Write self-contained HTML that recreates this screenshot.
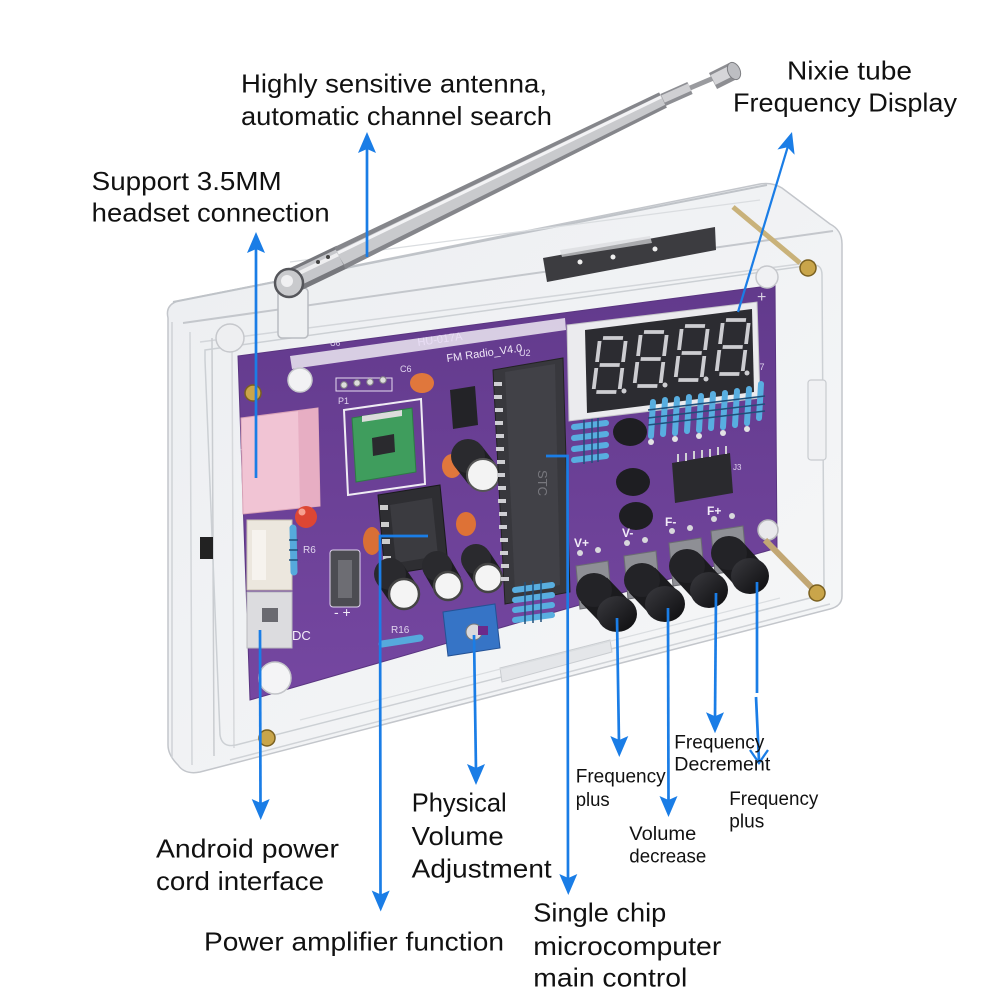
<!DOCTYPE html>
<html><head><meta charset="utf-8">
<style>html,body{margin:0;padding:0;background:#fff;overflow:hidden;}svg{display:block;}</style>
</head>
<body>
<svg xmlns="http://www.w3.org/2000/svg" width="1000" height="1000" viewBox="0 0 1000 1000">
<defs>
<linearGradient id="pcb" x1="0" y1="0" x2="0" y2="1"><stop offset="0" stop-color="#623a8c"/><stop offset="1" stop-color="#7547a1"/></linearGradient>
<linearGradient id="acr" x1="0" y1="0" x2="1" y2="1"><stop offset="0" stop-color="#eceef1"/><stop offset="1" stop-color="#f6f7f8"/></linearGradient>
<linearGradient id="knob" x1="0" y1="0" x2="1" y2="1"><stop offset="0" stop-color="#3a3a3f"/><stop offset="1" stop-color="#0c0c0e"/></linearGradient>
</defs>
<rect width="1000" height="1000" fill="#fff"/>

<!-- ===== ACRYLIC CASE ===== -->
<path d="M168,318 Q165,305 178,301 L760,184 Q772,182 782,188 L830,224 Q842,230 842,244 L842,596 Q842,606 830,609 L200,772 Q185,775 178,765 Q168,755 168,745 Z" fill="url(#acr)" stroke="#c3c6cb" stroke-width="1.5"/>
<line x1="173" y1="302" x2="767" y2="185" stroke="#bfc3c8" stroke-width="2"/>
<line x1="183" y1="323" x2="833" y2="231" stroke="#c4c7cc" stroke-width="2"/>
<line x1="200" y1="342" x2="815" y2="262" stroke="#d3d6da" stroke-width="1.5"/>
<line x1="290" y1="262" x2="760" y2="200" stroke="#dadde0" stroke-width="1.2"/>
<!-- speaker bar -->
<polygon points="543,258 715,227 716,250 547,282" fill="#3c3c40"/>
<circle cx="580" cy="262" r="2.5" fill="#eee"/><circle cx="613" cy="257" r="2.5" fill="#eee"/><circle cx="655" cy="249" r="2.5" fill="#eee"/>
<polygon points="560,250 650,236 652,243 562,257" fill="#d8dadd" opacity="0.7"/>
<!-- left side layers -->
<line x1="172" y1="322" x2="172" y2="758" stroke="#cfd2d6" stroke-width="1.5"/>
<line x1="190" y1="332" x2="192" y2="765" stroke="#d2d5d9" stroke-width="1.5"/>
<line x1="212" y1="338" x2="214" y2="756" stroke="#c9ccd0" stroke-width="1.5"/>
<line x1="232" y1="345" x2="234" y2="748" stroke="#d6d8db" stroke-width="1.5"/>
<path d="M205,350 L812,265 Q822,264 822,275 L824,585 Q824,594 814,597 L236,745 Q222,748 220,735 L205,360 Z" fill="none" stroke="#ccd0d4" stroke-width="1.5"/>
<rect x="808" y="380" width="18" height="80" rx="3" fill="#f0f1f3" stroke="#c8cbcf" stroke-width="1.2"/>
<line x1="230" y1="760" x2="830" y2="604" stroke="#d0d3d7" stroke-width="1.5"/>
<polygon points="500,668 610,640 612,652 502,682" fill="#e4e6e9" stroke="#c9ccd0" stroke-width="1"/>
<line x1="300" y1="720" x2="780" y2="598" stroke="#dadde0" stroke-width="1.2"/>

<!-- ===== PCB ===== -->
<polygon points="238,356 775,285 777,548 250,700" fill="url(#pcb)" stroke="#5a3580" stroke-width="1"/>
<polygon points="290,356 565,318 566,330 292,369" fill="#ffffff" opacity="0.75"/>
<text x="418" y="346" font-family="Liberation Sans, sans-serif" font-size="11" fill="#e9def5" transform="rotate(-8 418 346)">HU-017A</text>
<text x="447" y="362" font-family="Liberation Sans, sans-serif" font-size="11" fill="#f0e8f8" transform="rotate(-8 447 362)">FM Radio_V4.0</text>
<text x="330" y="346" font-family="Liberation Sans, sans-serif" font-size="8" fill="#e0d4ee">U6</text>
<text x="519" y="356" font-family="Liberation Sans, sans-serif" font-size="9" fill="#e0d4ee">U2</text>
<text x="400" y="372" font-family="Liberation Sans, sans-serif" font-size="9" fill="#e0d4ee">C6</text>
<text x="338" y="404" font-family="Liberation Sans, sans-serif" font-size="9" fill="#e0d4ee">P1</text>
<text x="753" y="370" font-family="Liberation Sans, sans-serif" font-size="9" fill="#e0d4ee">R7</text>
<text x="462" y="449" font-family="Liberation Sans, sans-serif" font-size="9" fill="#e0d4ee">C8</text>
<text x="303" y="553" font-family="Liberation Sans, sans-serif" font-size="10" fill="#e0d4ee">R6</text>
<text x="391" y="633" font-family="Liberation Sans, sans-serif" font-size="10" fill="#e0d4ee">R16</text>
<text x="292" y="640" font-family="Liberation Sans, sans-serif" font-size="13" fill="#f2ecf8">DC</text>
<text x="334" y="617" font-family="Liberation Sans, sans-serif" font-size="14" fill="#f2ecf8">- +</text>
<text x="757" y="302" font-family="Liberation Sans, sans-serif" font-size="16" fill="#d8d0e2">+</text>
<text x="240" y="455" font-family="Liberation Sans, sans-serif" font-size="16" fill="#d8d0e2">+</text>
<rect x="336" y="378" width="56" height="13" fill="none" stroke="#e6dcf0" stroke-width="1"/>
<circle cx="344" cy="385" r="3.2" fill="#ddd" stroke="#888"/><circle cx="357" cy="383" r="3.2" fill="#ddd" stroke="#888"/><circle cx="370" cy="382" r="3.2" fill="#ddd" stroke="#888"/><circle cx="383" cy="380" r="3.2" fill="#ddd" stroke="#888"/>

<!-- Pink jack -->
<polygon points="241,418 318,408 320,506 243,514" fill="#f1c4d4" stroke="#d9a3b7" stroke-width="1"/>
<polygon points="298,411 318,408 320,506 300,508" fill="#e7aec3"/>
<rect x="247" y="520" width="45" height="70" fill="#ece7de" stroke="#c9c1b2" stroke-width="1"/>
<rect x="252" y="530" width="14" height="50" fill="#f6f3ee"/>
<rect x="247" y="592" width="45" height="56" fill="#dcdcdf" stroke="#b9b9bd" stroke-width="1"/>
<rect x="262" y="608" width="16" height="14" fill="#6a6a70"/>
<rect x="200" y="537" width="13" height="22" fill="#222"/>
<circle cx="306" cy="517" r="11" fill="#dd4634"/><circle cx="302" cy="512" r="3.5" fill="#f7a090"/>
<line x1="293" y1="528" x2="294" y2="572" stroke="#56a9dc" stroke-width="7" stroke-linecap="round"/>
<line x1="289" y1="540" x2="298" y2="540" stroke="#1f4f7a" stroke-width="1.5"/><line x1="289" y1="550" x2="298" y2="550" stroke="#1f4f7a" stroke-width="1.5"/><line x1="289" y1="560" x2="298" y2="560" stroke="#1f4f7a" stroke-width="1.5"/>
<rect x="330" y="550" width="30" height="57" rx="3" fill="#4c4c52" stroke="#e0d4ee" stroke-width="1"/>
<rect x="338" y="560" width="14" height="38" fill="#6d6d73"/>
<!-- green module -->
<polygon points="344,410 421,399 425,484 348,495" fill="none" stroke="#f0ecf4" stroke-width="2"/>
<polygon points="352,418 412,408 416,472 356,482" fill="#3f9d5d" stroke="#2e7a46" stroke-width="1"/>
<polygon points="372,438 394,434 395,452 373,456" fill="#2a2a2e"/>
<polygon points="362,416 402,410 402,416 362,422" fill="#dcdcdc"/>
<ellipse cx="422" cy="383" rx="12" ry="10" fill="#e0773c"/>
<ellipse cx="452" cy="466" rx="10" ry="12" fill="#e0773c"/>
<ellipse cx="466" cy="524" rx="10" ry="12" fill="#de7236"/>
<ellipse cx="372" cy="541" rx="9" ry="14" fill="#d96f35"/>
<polygon points="450,390 475,386 478,425 453,429" fill="#232327"/>
<line x1="468" y1="456" x2="482" y2="474" stroke="#1f1f23" stroke-width="34"/>
<ellipse cx="468" cy="456" rx="17" ry="17" fill="#2a2a2e"/>
<ellipse cx="483" cy="475" rx="16" ry="16" fill="#f3f3f3" stroke="#555" stroke-width="2"/>
<polygon points="378,495 440,485 448,565 385,575" fill="#2e2e32" stroke="#1a1a1c"/>
<polygon points="390,505 432,498 438,556 396,563" fill="#3b3b40"/>
<rect x="380" y="505" width="8" height="5" fill="#ccc"/><rect x="381" y="522" width="8" height="5" fill="#ccc"/><rect x="382" y="539" width="8" height="5" fill="#ccc"/><rect x="383" y="556" width="8" height="5" fill="#ccc"/>
<line x1="390" y1="574" x2="403" y2="593" stroke="#1e1e22" stroke-width="32"/>
<ellipse cx="390" cy="574" rx="16" ry="16" fill="#2a2a2e"/>
<ellipse cx="404" cy="594" rx="15" ry="15" fill="#f4f4f4" stroke="#444" stroke-width="2.5"/>
<line x1="437" y1="566" x2="448" y2="585" stroke="#1e1e22" stroke-width="30"/>
<ellipse cx="437" cy="566" rx="15" ry="15" fill="#2a2a2e"/>
<ellipse cx="448" cy="586" rx="14" ry="14" fill="#f4f4f4" stroke="#444" stroke-width="2.5"/>
<line x1="476" y1="559" x2="488" y2="577" stroke="#1e1e22" stroke-width="30"/>
<ellipse cx="476" cy="559" rx="15" ry="15" fill="#2a2a2e"/>
<ellipse cx="488" cy="578" rx="14" ry="14" fill="#f4f4f4" stroke="#444" stroke-width="2.5"/>
<polygon points="443,612 495,604 500,648 448,656" fill="#3674c6" stroke="#245295" stroke-width="1"/>
<circle cx="474" cy="632" r="8" fill="#d9d9dd" stroke="#777"/>
<rect x="478" y="626" width="10" height="9" fill="#6b2a8a"/>
<line x1="382" y1="644" x2="420" y2="638" stroke="#56a9dc" stroke-width="7" stroke-linecap="round"/>
<!-- U2 chip -->
<polygon points="493,370 563,358 570,592 505,604" fill="#38383d" stroke="#222" stroke-width="1"/>
<polygon points="505,372 555,364 560,585 515,593" fill="#414147"/>
<g fill="#cfcfd3">
<rect x="494" y="382" width="8" height="4"/><rect x="494" y="395" width="8" height="4"/><rect x="495" y="408" width="8" height="4"/><rect x="495" y="421" width="8" height="4"/><rect x="496" y="434" width="8" height="4"/><rect x="496" y="447" width="8" height="4"/><rect x="497" y="460" width="8" height="4"/><rect x="497" y="473" width="8" height="4"/><rect x="498" y="486" width="8" height="4"/><rect x="498" y="499" width="8" height="4"/><rect x="499" y="512" width="8" height="4"/><rect x="499" y="525" width="8" height="4"/><rect x="500" y="538" width="8" height="4"/><rect x="500" y="551" width="8" height="4"/><rect x="501" y="564" width="8" height="4"/><rect x="501" y="577" width="8" height="4"/>
</g>
<text x="538" y="470" font-family="Liberation Sans, sans-serif" font-size="13" fill="#77777d" transform="rotate(90 538 470)">STC</text>
<g stroke="#58aee0" stroke-width="6" stroke-linecap="round">
<line x1="574" y1="416" x2="606" y2="412"/><line x1="574" y1="427" x2="606" y2="423"/><line x1="574" y1="438" x2="606" y2="434"/><line x1="574" y1="449" x2="606" y2="445"/><line x1="574" y1="460" x2="606" y2="456"/>
<line x1="515" y1="590" x2="552" y2="585"/><line x1="515" y1="600" x2="552" y2="595"/><line x1="515" y1="610" x2="552" y2="605"/><line x1="515" y1="620" x2="552" y2="615"/>
</g>
<g stroke="#1f4f7a" stroke-width="1.5">
<line x1="584" y1="408" x2="584" y2="464"/><line x1="592" y1="407" x2="592" y2="463"/><line x1="598" y1="406" x2="598" y2="462"/>
<line x1="525" y1="582" x2="525" y2="624"/><line x1="533" y1="581" x2="533" y2="623"/><line x1="541" y1="580" x2="541" y2="622"/>
</g>
<!-- display -->
<polygon points="567,325 757,302 760,398 569,421" fill="#ebebee" stroke="#c4c4c8" stroke-width="1"/>
<polygon points="585,330 752,309 754,392 587,413" fill="#2c2c31"/>
<g fill="none" stroke="#cdcdd1" stroke-width="3.8">
<g transform="translate(600,338) skewX(-7)"><path d="M3,0H23M26,3V24M26,30V51M3,54H23M0,30V51M0,3V24M3,27H23"/></g>
<g transform="translate(641,332) skewX(-7)"><path d="M3,0H23M26,3V24M26,30V51M3,54H23M0,30V51M0,3V24M3,27H23"/></g>
<g transform="translate(682,326) skewX(-7)"><path d="M3,0H23M26,3V24M26,30V51M3,54H23M0,30V51M0,3V24M3,27H23"/></g>
<g transform="translate(723,320) skewX(-7)"><path d="M3,0H23M26,3V24M26,30V51M3,54H23M0,30V51M0,3V24M3,27H23"/></g>
</g>
<g fill="#cdcdd1"><circle cx="624" cy="391" r="2.5"/><circle cx="665" cy="385" r="2.5"/><circle cx="706" cy="379" r="2.5"/><circle cx="747" cy="373" r="2.5"/></g>
<g stroke="#58aee0" stroke-width="6" stroke-linecap="round">
<line x1="653" y1="402" x2="651" y2="436"/><line x1="665" y1="400" x2="663" y2="434"/><line x1="677" y1="399" x2="675" y2="433"/><line x1="689" y1="397" x2="687" y2="431"/><line x1="701" y1="396" x2="699" y2="430"/><line x1="713" y1="394" x2="711" y2="428"/><line x1="725" y1="393" x2="723" y2="427"/><line x1="737" y1="391" x2="735" y2="425"/><line x1="749" y1="389" x2="747" y2="423"/><line x1="761" y1="384" x2="759" y2="418"/>
</g>
<g stroke="#1f4f7a" stroke-width="1.5">
<line x1="648" y1="410" x2="765" y2="396"/><line x1="648" y1="418" x2="765" y2="404"/><line x1="648" y1="425" x2="765" y2="411"/>
</g>
<g fill="#e2e2e4"><circle cx="651" cy="442" r="3"/><circle cx="675" cy="439" r="3"/><circle cx="699" cy="436" r="3"/><circle cx="723" cy="433" r="3"/><circle cx="747" cy="429" r="3"/></g>
<ellipse cx="630" cy="432" rx="17" ry="14" fill="#1e1e22"/>
<ellipse cx="633" cy="482" rx="17" ry="14" fill="#1e1e22"/>
<ellipse cx="636" cy="516" rx="17" ry="14" fill="#1e1e22"/>
<polygon points="672,463 730,453 733,493 675,503" fill="#2a2a2e"/>
<g stroke="#d0d0d4" stroke-width="2"><line x1="678" y1="462" x2="678" y2="454"/><line x1="686" y1="461" x2="686" y2="453"/><line x1="694" y1="459" x2="694" y2="451"/><line x1="702" y1="458" x2="702" y2="450"/><line x1="710" y1="457" x2="710" y2="449"/><line x1="718" y1="455" x2="718" y2="447"/><line x1="726" y1="454" x2="726" y2="446"/></g>
<text x="733" y="470" font-family="Liberation Sans, sans-serif" font-size="8" fill="#e0d4ee">J3</text>

<!-- switches -->
<g fill="#8e8f95" stroke="#6b6c72" stroke-width="1">
<polygon points="576,566 608,561 612,604 580,609"/>
<polygon points="624,556 656,551 660,594 628,599"/>
<polygon points="669,543 701,538 705,581 673,586"/>
<polygon points="711,531 743,526 747,569 715,574"/>
</g>
<g fill="#d8d8dc"><circle cx="580" cy="553" r="3"/><circle cx="598" cy="550" r="3"/><circle cx="627" cy="543" r="3"/><circle cx="645" cy="540" r="3"/><circle cx="672" cy="531" r="3"/><circle cx="690" cy="528" r="3"/><circle cx="714" cy="519" r="3"/><circle cx="732" cy="516" r="3"/></g>
<g font-family="Liberation Sans, sans-serif" font-size="12" fill="#f2ecf8" font-weight="bold">
<text x="574" y="547">V+</text><text x="622" y="537">V-</text><text x="665" y="526">F-</text><text x="707" y="515">F+</text>
</g>
<text x="758" y="532" font-family="Liberation Sans, sans-serif" font-size="18" fill="#e4dcec">+</text>
<g>
<line x1="594" y1="590" x2="617" y2="614" stroke="#1b1b1e" stroke-width="36"/>
<ellipse cx="594" cy="590" rx="18" ry="17" fill="#232327"/>
<ellipse cx="617" cy="614" rx="20" ry="18" fill="url(#knob)"/>
<line x1="642" y1="580" x2="665" y2="604" stroke="#1b1b1e" stroke-width="36"/>
<ellipse cx="642" cy="580" rx="18" ry="17" fill="#232327"/>
<ellipse cx="665" cy="604" rx="20" ry="18" fill="url(#knob)"/>
<line x1="687" y1="566" x2="709" y2="590" stroke="#1b1b1e" stroke-width="35"/>
<ellipse cx="687" cy="566" rx="18" ry="17" fill="#232327"/>
<ellipse cx="709" cy="590" rx="19" ry="18" fill="url(#knob)"/>
<line x1="729" y1="553" x2="750" y2="576" stroke="#1b1b1e" stroke-width="35"/>
<ellipse cx="729" cy="553" rx="18" ry="17" fill="#232327"/>
<ellipse cx="750" cy="576" rx="19" ry="18" fill="url(#knob)"/>
</g>
<circle cx="275" cy="678" r="16" fill="#f4f4f6" stroke="#c3c5c9" stroke-width="1.5"/>
<circle cx="300" cy="380" r="12" fill="#f2f2f4" stroke="#c6c8cc" stroke-width="1.5"/>
<circle cx="230" cy="338" r="14" fill="#eeeff1" stroke="#c6c8cc" stroke-width="1.5"/>
<circle cx="767" cy="277" r="11" fill="#f0f1f3" stroke="#c6c8cc" stroke-width="1.5"/>
<circle cx="768" cy="530" r="10" fill="#e9e9ec" stroke="#b8b8bc" stroke-width="1.5"/>
<line x1="733" y1="207" x2="800" y2="263" stroke="#c9b27a" stroke-width="5"/>
<line x1="765" y1="540" x2="817" y2="593" stroke="#c2a774" stroke-width="6"/>
<g fill="#c9a54a" stroke="#7a6020" stroke-width="1.5">
<circle cx="253" cy="393" r="8"/><circle cx="267" cy="738" r="8"/><circle cx="808" cy="268" r="8"/><circle cx="817" cy="593" r="8"/>
</g>

<!-- ===== ANTENNA ===== -->
<rect x="278" y="288" width="30" height="50" rx="4" fill="#eef0f2" stroke="#b9bcc1" stroke-width="1.5"/>
<line x1="292" y1="281" x2="342" y2="257" stroke="#77787d" stroke-width="25"/>
<line x1="292" y1="280" x2="342" y2="256" stroke="#c6c7cb" stroke-width="17"/>
<line x1="291" y1="277" x2="341" y2="253" stroke="#eeeef0" stroke-width="4"/>
<polygon points="345.5,269 666.9,107.6 659.1,92.4 334.5,247" fill="#85868b"/>
<polygon points="344,264.5 665.3,104.8 660.7,95.2 336,251.5" fill="#c9cacd"/>
<line x1="338" y1="253" x2="661" y2="97" stroke="#f3f3f5" stroke-width="3"/>
<line x1="663" y1="100" x2="690" y2="88" stroke="#8e8f94" stroke-width="13"/>
<line x1="663" y1="99" x2="690" y2="87" stroke="#d0d0d3" stroke-width="8"/>
<line x1="690" y1="88" x2="716" y2="77" stroke="#9a9b9f" stroke-width="5"/>
<line x1="713" y1="81" x2="733" y2="71" stroke="#8d8e92" stroke-width="18"/>
<line x1="713" y1="80" x2="733" y2="70" stroke="#d5d5d8" stroke-width="11"/>
<ellipse cx="734" cy="71" rx="6" ry="9" fill="#bdbec2" stroke="#7d7e82" transform="rotate(-25 734 71)"/>
<circle cx="289" cy="283" r="14" fill="#c9cacd" stroke="#55565b" stroke-width="2.5"/>
<circle cx="287" cy="281" r="6" fill="#f0f0f2"/>
<circle cx="318" cy="262" r="2" fill="#444"/><circle cx="328" cy="257" r="2" fill="#444"/>

<!-- ===== ARROWS ===== -->
<g stroke="#1a7de6" stroke-width="2.7" fill="none">
<line x1="367" y1="257" x2="367" y2="146"/>
<line x1="256" y1="478" x2="256" y2="246"/>
<line x1="738" y1="312" x2="788" y2="146" stroke-width="2.2"/>
<line x1="260" y1="630" x2="260.5" y2="805"/>
<polyline points="428,536 380,536 380.5,897"/>
<line x1="474" y1="635" x2="476" y2="771"/>
<polyline points="546,456 567.5,456 568,881"/>
<line x1="617" y1="618" x2="619" y2="743"/>
<line x1="668" y1="608" x2="668.5" y2="803"/>
<line x1="716" y1="593" x2="715" y2="719"/>
<line x1="757" y1="582" x2="757" y2="693"/>
<line x1="756" y1="697" x2="759" y2="761"/>
<polyline points="750,750 759,763 768,750" stroke-width="2.3"/>
</g>
<g fill="#1a7de6">
<polygon points="367,132 358,153 367,149 376,153"/>
<polygon points="256,232 247,253 256,249 265,253"/>
<polygon points="792,132 794.6,154.7 787.4,147.3 777.4,149.5"/>
<polygon points="260.7,820 251.7,799 260.7,803 269.7,799"/>
<polygon points="380.7,911.5 371.7,890.5 380.7,894.5 389.7,890.5"/>
<polygon points="476,785 467,764 476,768 485,764"/>
<polygon points="568.3,895 559.3,874 568.3,878 577.3,874"/>
<polygon points="619.3,757 610.3,736 619.3,740 628.3,736"/>
<polygon points="668.5,817 659.5,796 668.5,800 677.5,796"/>
<polygon points="715,733.3 706,712.3 715,716.3 724,712.3"/>
</g>

<!-- ===== TEXT ===== -->
<g font-family="Liberation Sans, sans-serif" font-size="26" fill="#111">
<text x="241" y="92.5" textLength="306" lengthAdjust="spacingAndGlyphs">Highly sensitive antenna,</text>
<text x="241" y="125" textLength="311" lengthAdjust="spacingAndGlyphs">automatic channel search</text>
<text x="787" y="79.5" textLength="125" lengthAdjust="spacingAndGlyphs">Nixie tube</text>
<text x="733" y="111.7" textLength="224" lengthAdjust="spacingAndGlyphs">Frequency Display</text>
<text x="91.7" y="190" textLength="190" lengthAdjust="spacingAndGlyphs">Support 3.5MM</text>
<text x="91.7" y="221.7" textLength="238" lengthAdjust="spacingAndGlyphs">headset connection</text>
<text x="156" y="857.3" textLength="183" lengthAdjust="spacingAndGlyphs">Android power</text>
<text x="156" y="890" textLength="168" lengthAdjust="spacingAndGlyphs">cord interface</text>
<text x="204" y="950.7" textLength="300" lengthAdjust="spacingAndGlyphs">Power amplifier function</text>
<text x="411.7" y="811.7" textLength="95" lengthAdjust="spacingAndGlyphs">Physical</text>
<text x="411.7" y="845" textLength="92" lengthAdjust="spacingAndGlyphs">Volume</text>
<text x="411.7" y="877.3" textLength="140" lengthAdjust="spacingAndGlyphs">Adjustment</text>
<text x="533.3" y="921.7" textLength="133" lengthAdjust="spacingAndGlyphs">Single chip</text>
<text x="533.3" y="955" textLength="188" lengthAdjust="spacingAndGlyphs">microcomputer</text>
<text x="533.3" y="986.7" textLength="154" lengthAdjust="spacingAndGlyphs">main control</text>
</g>
<g font-family="Liberation Sans, sans-serif" font-size="19.5" fill="#111">
<text x="575.7" y="782.7" textLength="90" lengthAdjust="spacingAndGlyphs">Frequency</text>
<text x="575.7" y="806" textLength="34" lengthAdjust="spacingAndGlyphs">plus</text>
<text x="674.3" y="748.3" textLength="90" lengthAdjust="spacingAndGlyphs">Frequency</text>
<text x="674.3" y="770.7" textLength="96" lengthAdjust="spacingAndGlyphs">Decrement</text>
<text x="629.3" y="840" textLength="67" lengthAdjust="spacingAndGlyphs">Volume</text>
<text x="629.3" y="862.7" textLength="77" lengthAdjust="spacingAndGlyphs">decrease</text>
<text x="729.3" y="805" textLength="89" lengthAdjust="spacingAndGlyphs">Frequency</text>
<text x="729.3" y="827.7" textLength="35" lengthAdjust="spacingAndGlyphs">plus</text>
</g>
</svg>
</body></html>
